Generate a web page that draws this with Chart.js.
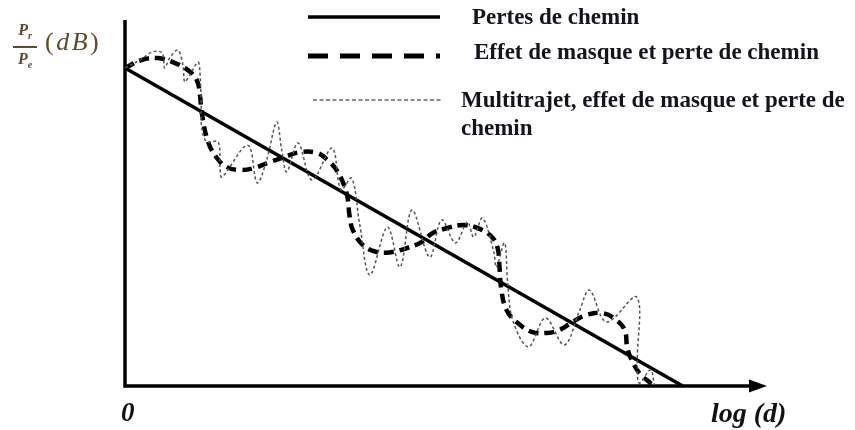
<!DOCTYPE html>
<html>
<head>
<meta charset="utf-8">
<script src="https://cdn.jsdelivr.net/npm/chart.js@4/dist/chart.umd.min.js"></script>
<style>
  body { margin: 0; background: #fff; }
  #wrap { position: relative; width: 855px; height: 430px; }
  canvas { position: absolute; left: 0; top: 0; }
  .txt { position: absolute; white-space: nowrap; font-family: "Liberation Serif", serif; }
  .leg { font-weight: bold; font-size: 23px; color: #14141e; line-height: 28px; }
  .ax { font-weight: bold; font-style: italic; color: #111; }
  .ylab { color: #5e4b2c; }
  .frac { position: absolute; left: 13px; top: 22px; width: 24px; text-align: center; font-size: 16px; line-height: 16px; font-style: italic; font-weight: bold; }
  .frac .bar { border-top: 2px solid #5e4b2c; margin: 2px 0 3px 0; }
  .frac sub { font-size: 10px; }
</style>
</head>
<body>
<div id="wrap">
  <canvas id="chart" width="855" height="430"></canvas>
  <div class="txt ylab frac"><div>P<sub>r</sub></div><div class="bar"></div><div>P<sub>e</sub></div></div>
  <div class="txt ylab" style="left:45px; top:27px; font-size:26px; letter-spacing:2.5px;">(<i>dB</i>)</div>
  <div class="txt leg" style="left:472px; top:3px;">Pertes de chemin</div>
  <div class="txt leg" style="left:474px; top:38px;">Effet de masque et perte de chemin</div>
  <div class="txt leg" style="left:461px; top:86px;">Multitrajet, effet de masque et perte de<br>chemin</div>
  <div class="txt ax" style="left:121px; top:397px; font-size:27px;">0</div>
  <div class="txt ax" style="left:711px; top:397px; font-size:28px;">log (d)</div>
</div>
<script>
// pertes de chemin (droite)
const pathX = [0, 8.86];
const pathY = [86.9, 0];

// effet de masque + pertes de chemin
const maskX = [0, 0.27, 0.52, 0.76, 1.00, 1.14, 1.19, 1.22, 1.32, 1.46, 1.62, 1.83, 2.06, 2.30, 2.54, 2.78,
  3.05, 3.22, 3.38, 3.52, 3.57, 3.62, 3.78, 4.00, 4.24, 4.48, 4.71, 4.89, 5.13, 5.37, 5.60, 5.83,
  5.92, 5.95, 5.98, 6.06, 6.22, 6.46, 6.70, 6.90, 7.11, 7.33, 7.59, 7.81, 7.94, 7.98, 8.05, 8.17, 8.38];
const maskY = [86.9, 89.1, 89.6, 88.5, 86.3, 83.6, 79.5, 74.6, 66.7, 62.3, 59.8, 59.0, 59.6, 61.2, 62.6, 63.9,
  63.7, 61.7, 58.5, 52.7, 46.2, 42.6, 38.5, 36.6, 36.6, 37.7, 39.3, 41.8, 43.2, 44.0, 43.2, 40.7,
  37.7, 32.5, 26.2, 20.8, 17.5, 14.8, 14.5, 15.3, 17.5, 19.4, 19.9, 18.0, 15.3, 10.4, 7.1, 3.6, 0.3];

// multitrajet + effet de masque + pertes de chemin
const multiX = [0, 0.24, 0.44, 0.59, 0.63, 0.71, 0.84, 0.92, 0.95, 1.03, 1.16, 1.19, 1.21, 1.22, 1.30, 1.48,
  1.51, 1.54, 1.95, 2.10, 2.25, 2.41, 2.49, 2.57, 2.75, 2.97, 3.29, 3.43, 3.60, 3.73, 3.89, 4.17,
  4.37, 4.56, 4.84, 5.03, 5.25, 5.44, 5.54, 5.68, 5.86, 5.90, 6.03, 6.08, 6.16, 6.41, 6.68, 6.98,
  7.22, 7.38, 7.65, 8.13, 8.14, 8.17, 8.35, 8.41];
const multiY = [86.9, 89.1, 91.3, 91.0, 86.9, 89.6, 91.8, 87.7, 83.1, 85.0, 88.5, 85.8, 77.6, 70.5, 66.7, 66.7,
  59.6, 57.1, 65.8, 55.5, 61.7, 72.1, 64.5, 58.5, 66.4, 56.3, 65.0, 53.6, 56.8, 44.0, 30.3, 43.4,
  32.5, 48.1, 35.2, 45.4, 39.1, 44.8, 40.7, 45.9, 36.6, 32.5, 39.1, 28.1, 18.0, 10.7, 18.6, 11.2,
  20.5, 26.2, 17.5, 24.3, 6.3, 0.8, 4.4, 0.3];

function pts(xs, ys) {
  return xs.map((x, i) => ({ x: x, y: ys[i] }));
}

// axes + petite légende dessinés sur le canvas
const axesPlugin = {
  id: "axes",
  beforeDatasetsDraw(chart) {
    const ctx = chart.ctx;
    const xs = chart.scales.x;
    const ys = chart.scales.y;
    const x0 = xs.getPixelForValue(0);
    const y0 = ys.getPixelForValue(0);
    const top = chart.chartArea.top;
    const right = chart.chartArea.right;
    ctx.save();
    ctx.strokeStyle = "#000";
    ctx.fillStyle = "#000";
    ctx.lineWidth = 3.5;
    ctx.beginPath();
    ctx.moveTo(x0, top);
    ctx.lineTo(x0, y0);
    ctx.lineTo(right - 16, y0);
    ctx.stroke();
    ctx.beginPath();
    ctx.moveTo(right, y0);
    ctx.lineTo(right - 18, y0 - 6.5);
    ctx.lineTo(right - 18, y0 + 6.5);
    ctx.closePath();
    ctx.fill();
    ctx.restore();
  },
  afterDraw(chart) {
    const ctx = chart.ctx;
    ctx.save();
    ctx.strokeStyle = "#000";
    ctx.lineWidth = 3.5;
    ctx.beginPath();
    ctx.moveTo(308, 17);
    ctx.lineTo(440, 17);
    ctx.stroke();
    ctx.lineWidth = 5;
    ctx.setLineDash([20, 12]);
    ctx.beginPath();
    ctx.moveTo(308, 56);
    ctx.lineTo(440, 56);
    ctx.stroke();
    ctx.strokeStyle = "#666";
    ctx.lineWidth = 1.5;
    ctx.setLineDash([4, 2.5]);
    ctx.beginPath();
    ctx.moveTo(313, 100);
    ctx.lineTo(441, 100);
    ctx.stroke();
    ctx.restore();
  }
};

new Chart(document.getElementById("chart"), {
  type: "line",
  data: {
    datasets: [
      {
        label: "Multitrajet, effet de masque et perte de chemin",
        data: pts(multiX, multiY),
        borderColor: "#555",
        borderWidth: 1.5,
        borderDash: [3, 2.5],
        tension: 0.35,
        pointRadius: 0,
        fill: false
      },
      {
        label: "Effet de masque et perte de chemin",
        data: pts(maskX, maskY),
        borderColor: "#000",
        borderWidth: 4.5,
        borderDash: [10, 6],
        tension: 0.4,
        pointRadius: 0,
        fill: false
      },
      {
        label: "Pertes de chemin",
        data: pts(pathX, pathY),
        borderColor: "#000",
        borderWidth: 3.5,
        tension: 0,
        pointRadius: 0,
        fill: false
      }
    ]
  },
  options: {
    responsive: false,
    animation: false,
    layout: { padding: { left: 125, right: 88, top: 20, bottom: 44 } },
    plugins: { legend: { display: false }, tooltip: { enabled: false } },
    scales: {
      x: { type: "linear", min: 0, max: 10.2, display: false },
      y: { min: 0, max: 100, display: false }
    }
  },
  plugins: [axesPlugin]
});
</script>
</body>
</html>
